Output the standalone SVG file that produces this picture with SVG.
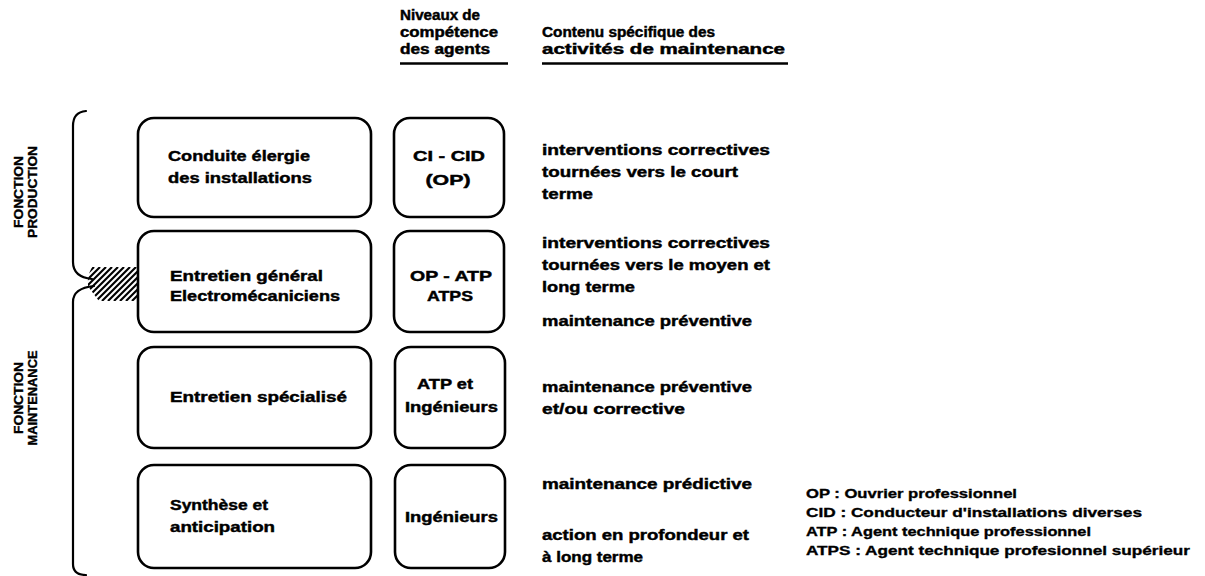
<svg xmlns="http://www.w3.org/2000/svg" width="1205" height="576" viewBox="0 0 1205 576">
  <style>
    .t { font-family: "Liberation Sans", Arial, sans-serif; font-weight: bold; font-size: 15px; fill: #000; stroke: #000; stroke-width: 0.45; }
    .h { font-size: 14px; }
    .lg { font-size: 13px; stroke-width: 0.35; }
    .side { font-size: 12px; stroke-width: 0.35; }
    .box { fill: none; stroke: #000; stroke-width: 2.6; }
    .rule { stroke: #000; stroke-width: 2.6; fill: none; }
    .brace { fill: none; stroke: #000; stroke-width: 2.2; stroke-linecap: round; }
    .hatch { stroke: #000; stroke-width: 2.1; }
  </style>
  <defs>
    <clipPath id="hatchClip">
      <path d="M92,267 L137,267 L137,301 L99,301 Q92,292 88,286 Q87,276 92,267 Z"/>
    </clipPath>
  </defs>
  <rect width="1205" height="576" fill="#fff"/>

  <!-- column headers -->
  <g id="header-levels">
    <text class="t h" x="400" y="20" textLength="80" lengthAdjust="spacingAndGlyphs">Niveaux de</text>
    <text class="t h" x="400" y="37" textLength="98" lengthAdjust="spacingAndGlyphs">compétence</text>
    <text class="t h" x="400" y="54" textLength="90" lengthAdjust="spacingAndGlyphs">des agents</text>
    <line class="rule" x1="400" y1="63.5" x2="508" y2="63.5"/>
  </g>
  <g id="header-content">
    <text class="t h" x="542" y="37" textLength="173" lengthAdjust="spacingAndGlyphs">Contenu spécifique des</text>
    <text class="t h" x="542" y="54" textLength="243" lengthAdjust="spacingAndGlyphs">activités de maintenance</text>
    <line class="rule" x1="542" y1="63.5" x2="788" y2="63.5"/>
  </g>

  <!-- side braces -->
  <g id="brace-production">
    <path class="brace" d="M86,111 Q73,112 73,126 L73,262 Q73,277 92,279"/>
    <text class="t side" transform="translate(23,192) rotate(-90)" text-anchor="middle" textLength="72" lengthAdjust="spacingAndGlyphs">FONCTION</text>
    <text class="t side" transform="translate(37,192) rotate(-90)" text-anchor="middle" textLength="92" lengthAdjust="spacingAndGlyphs">PRODUCTION</text>
  </g>
  <g id="brace-maintenance">
    <path class="brace" d="M94,286 Q73,288 73,302 L73,564 Q73,575 86,575"/>
    <text class="t side" transform="translate(23,398) rotate(-90)" text-anchor="middle" textLength="72" lengthAdjust="spacingAndGlyphs">FONCTION</text>
    <text class="t side" transform="translate(37,398) rotate(-90)" text-anchor="middle" textLength="95" lengthAdjust="spacingAndGlyphs">MAINTENANCE</text>
  </g>
  <g id="overlap-hatch" clip-path="url(#hatchClip)">
    <line class="hatch" x1="60" y1="301" x2="94" y2="267"/>
    <line class="hatch" x1="66" y1="301" x2="100" y2="267"/>
    <line class="hatch" x1="72" y1="301" x2="106" y2="267"/>
    <line class="hatch" x1="78" y1="301" x2="112" y2="267"/>
    <line class="hatch" x1="84" y1="301" x2="118" y2="267"/>
    <line class="hatch" x1="90" y1="301" x2="124" y2="267"/>
    <line class="hatch" x1="96" y1="301" x2="130" y2="267"/>
    <line class="hatch" x1="102" y1="301" x2="136" y2="267"/>
    <line class="hatch" x1="108" y1="301" x2="142" y2="267"/>
    <line class="hatch" x1="114" y1="301" x2="148" y2="267"/>
    <line class="hatch" x1="120" y1="301" x2="154" y2="267"/>
    <line class="hatch" x1="126" y1="301" x2="160" y2="267"/>
    <line class="hatch" x1="132" y1="301" x2="166" y2="267"/>
  </g>

  <!-- row 1 -->
  <g id="activity-conduite">
    <rect class="box" x="138" y="118" width="233" height="99" rx="16"/>
    <text class="t" x="168" y="161" textLength="142" lengthAdjust="spacingAndGlyphs">Conduite élergie</text>
    <text class="t" x="168" y="183" textLength="144" lengthAdjust="spacingAndGlyphs">des installations</text>
  </g>
  <g id="level-ci-cid">
    <rect class="box" x="394" y="118" width="110" height="99" rx="16"/>
    <text class="t" x="449" y="161" text-anchor="middle" textLength="72" lengthAdjust="spacingAndGlyphs">CI - CID</text>
    <text class="t" x="448" y="185" text-anchor="middle" textLength="45" lengthAdjust="spacingAndGlyphs">(OP)</text>
  </g>
  <g id="content-1">
    <text class="t" x="542" y="155" textLength="228" lengthAdjust="spacingAndGlyphs">interventions correctives</text>
    <text class="t" x="542" y="177" textLength="196" lengthAdjust="spacingAndGlyphs">tournées vers le court</text>
    <text class="t" x="542" y="199" textLength="51" lengthAdjust="spacingAndGlyphs">terme</text>
  </g>

  <!-- row 2 -->
  <g id="activity-entretien-general">
    <rect class="box" x="138" y="231" width="233" height="101" rx="16"/>
    <text class="t" x="170" y="281" textLength="153" lengthAdjust="spacingAndGlyphs">Entretien général</text>
    <text class="t" x="170" y="301" textLength="170" lengthAdjust="spacingAndGlyphs">Electromécaniciens</text>
  </g>
  <g id="level-op-atp">
    <rect class="box" x="394" y="231" width="110" height="101" rx="16"/>
    <text class="t" x="451" y="281" text-anchor="middle" textLength="82" lengthAdjust="spacingAndGlyphs">OP - ATP</text>
    <text class="t" x="450" y="301" text-anchor="middle" textLength="46" lengthAdjust="spacingAndGlyphs">ATPS</text>
  </g>
  <g id="content-2">
    <text class="t" x="542" y="248" textLength="228" lengthAdjust="spacingAndGlyphs">interventions correctives</text>
    <text class="t" x="542" y="270" textLength="228" lengthAdjust="spacingAndGlyphs">tournées vers le moyen et</text>
    <text class="t" x="542" y="292" textLength="93" lengthAdjust="spacingAndGlyphs">long terme</text>
    <text class="t" x="542" y="326" textLength="210" lengthAdjust="spacingAndGlyphs">maintenance préventive</text>
  </g>

  <!-- row 3 -->
  <g id="activity-entretien-specialise">
    <rect class="box" x="138" y="347" width="233" height="101" rx="16"/>
    <text class="t" x="170" y="402" textLength="177" lengthAdjust="spacingAndGlyphs">Entretien spécialisé</text>
  </g>
  <g id="level-atp-ingenieurs">
    <rect class="box" x="395" y="347" width="110" height="101" rx="16"/>
    <text class="t" x="417" y="389" textLength="56" lengthAdjust="spacingAndGlyphs">ATP et</text>
    <text class="t" x="405" y="412" textLength="93" lengthAdjust="spacingAndGlyphs">Ingénieurs</text>
  </g>
  <g id="content-3">
    <text class="t" x="542" y="392" textLength="210" lengthAdjust="spacingAndGlyphs">maintenance préventive</text>
    <text class="t" x="542" y="414" textLength="143" lengthAdjust="spacingAndGlyphs">et/ou corrective</text>
  </g>

  <!-- row 4 -->
  <g id="activity-synthese">
    <rect class="box" x="138" y="465" width="233" height="103" rx="16"/>
    <text class="t" x="170" y="510" textLength="98" lengthAdjust="spacingAndGlyphs">Synthèse et</text>
    <text class="t" x="170" y="532" textLength="105" lengthAdjust="spacingAndGlyphs">anticipation</text>
  </g>
  <g id="level-ingenieurs">
    <rect class="box" x="395" y="465" width="110" height="103" rx="16"/>
    <text class="t" x="405" y="522" textLength="93" lengthAdjust="spacingAndGlyphs">Ingénieurs</text>
  </g>
  <g id="content-4">
    <text class="t" x="542" y="489" textLength="210" lengthAdjust="spacingAndGlyphs">maintenance prédictive</text>
    <text class="t" x="542" y="540" textLength="207" lengthAdjust="spacingAndGlyphs">action en profondeur et</text>
    <text class="t" x="542" y="562" textLength="101" lengthAdjust="spacingAndGlyphs">à long terme</text>
  </g>

  <!-- abbreviations -->
  <g id="legend">
    <text class="t lg" x="806" y="498" textLength="211" lengthAdjust="spacingAndGlyphs">OP  : Ouvrier professionnel</text>
    <text class="t lg" x="806" y="517" textLength="336" lengthAdjust="spacingAndGlyphs">CID : Conducteur d'installations diverses</text>
    <text class="t lg" x="806" y="536" textLength="285" lengthAdjust="spacingAndGlyphs">ATP  : Agent technique professionnel</text>
    <text class="t lg" x="806" y="555" textLength="384" lengthAdjust="spacingAndGlyphs">ATPS : Agent technique profesionnel supérieur</text>
  </g>
</svg>
